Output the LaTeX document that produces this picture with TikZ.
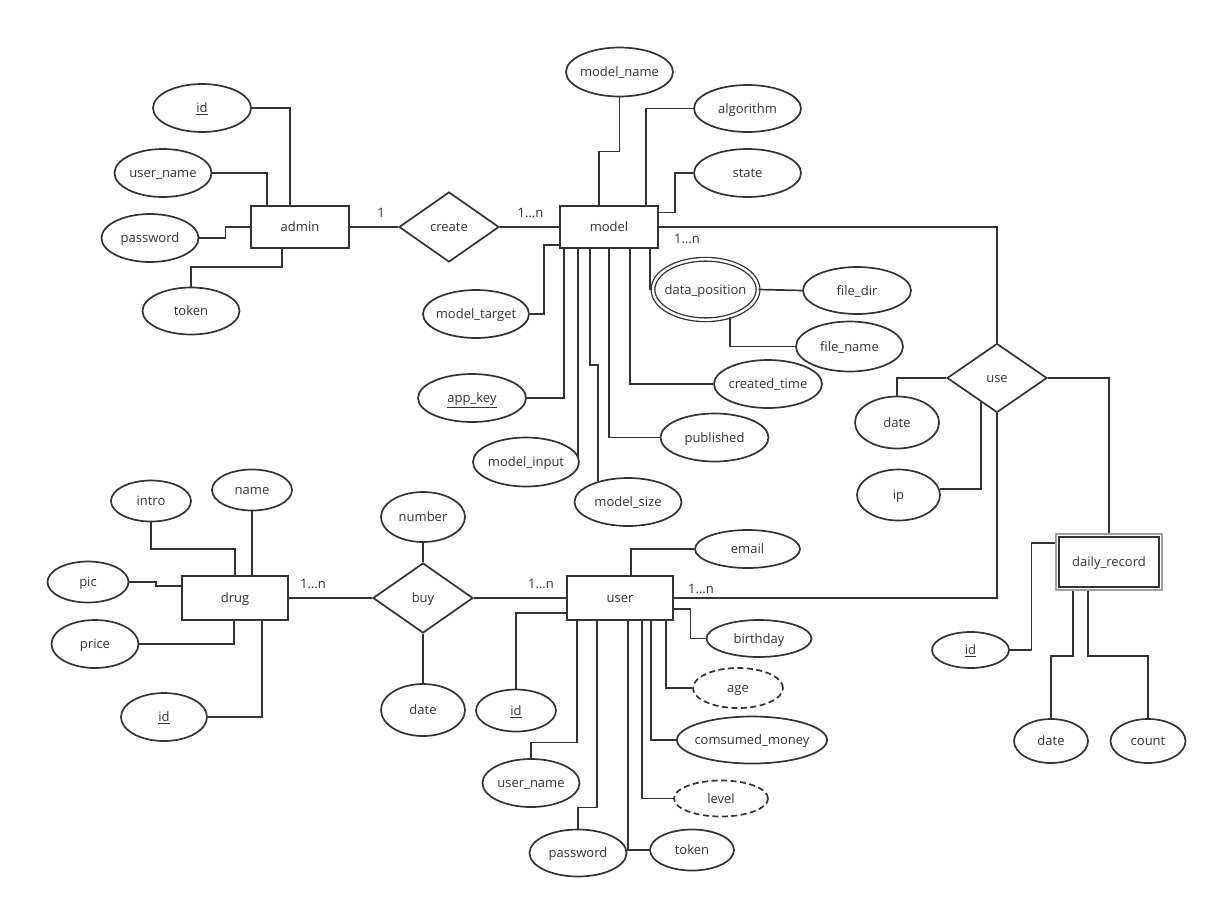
\documentclass[tikz,border=0pt]{standalone}
\usepackage{fontspec}
\setmainfont{Open Sans}
\usetikzlibrary{shapes.geometric}
\definecolor{lc}{HTML}{333333}
\definecolor{tc}{HTML}{333333}
\newcommand{\ztx}[1]{\makebox[0pt]{#1}}
\begin{document}
\begin{tikzpicture}[x=1pt,y=-1pt,
  every node/.style={font=\fontsize{13}{15}\selectfont, text=tc},
  conn/.style={draw=lc, line width=1.7pt},
  attr/.style 2 args={ellipse, draw=lc, line width=1.7pt, minimum width=#1pt, minimum height=#2pt, inner sep=0pt, text height=12pt, text depth=2.5pt},
  entity/.style 2 args={rectangle, draw=lc, line width=1.7pt, minimum width=#1pt, minimum height=#2pt, inner sep=0pt, text height=12pt, text depth=2.5pt},
  rel/.style={diamond, draw=lc, line width=1.7pt, minimum width=100pt, minimum height=70pt, inner sep=0pt, text height=12pt, text depth=2.5pt},
  dsh/.style={dash pattern=on 6pt off 3.5pt},
  card/.style={inner sep=0pt, text height=9.5pt, text depth=2.5pt}]
\fill[white] (0,0) rectangle (1217,908);
\path[use as bounding box] (0,0) rectangle (1217,908);

% entities
\node[entity={98}{42}] (admin) at (300,227) {admin};
\node[entity={98}{42}] (model) at (609,227) {model};
\node[entity={106}{44}] (drug) at (235,598) {drug};
\node[entity={106}{44}] (user) at (620,598) {user};
\node[rectangle, draw=gray!75, line width=1.3pt, minimum width=106pt, minimum height=56pt, inner sep=0pt] (dro) at (1109,562) {};
\node[entity={100}{50}] (dr) at (1109,562) {daily\_record};

% relations
\node[rel] (create) at (449,227) {\ztx{create}};
\node[rel, minimum height=69pt] (use) at (997,378) {\ztx{use}};
\node[rel] (buy) at (423,598) {\ztx{buy}};

% cardinalities
\node[card] (c1) at (381,214) {1};
\node[card] (c2) at (530.5,214) {1…n};
\node[card] (c3) at (687,240) {1…n};
\node[card] (c4) at (313,585) {1…n};
\node[card] (c5) at (541,585) {1…n};
\node[card] (c6) at (701,590) {1…n};

% admin attributes
\node[attr={98}{48}] (aid) at (202,108) {\ztx{\underline{id}}};
\node[attr={97}{48}] (aun) at (163,173) {\ztx{user\_name}};
\node[attr={97}{48}] (apw) at (150,238) {\ztx{password}};
\node[attr={97}{47}] (atk) at (191,311) {\ztx{token}};

% model attributes
\node[attr={107}{49}] (mname) at (619.5,72) {\ztx{model\_name}};
\node[attr={107}{47}] (malg) at (747.5,108.5) {\ztx{algorithm}};
\node[attr={107}{48}] (mstate) at (747.5,173) {\ztx{state}};
\node[attr={106}{48}] (mtarget) at (476,314) {\ztx{model\_target}};
\node[attr={108}{48}] (mkey) at (472,398) {\ztx{\underline{app\_key}}};
\node[attr={106}{49}] (minput) at (526,462) {\ztx{model\_input}};
\node[attr={107}{48}] (msize) at (628,502) {\ztx{model\_size}};
\node[attr={108}{48}] (mpub) at (714.5,437.5) {\ztx{published}};
\node[attr={108}{48}] (mct) at (768,384) {\ztx{created\_time}};
\node[attr={105}{60.5}, double, double distance=2.4pt, line width=1.3pt] (mdp) at (705.5,289.5) {\ztx{data\_position}};
\node[attr={108}{47}] (fdir) at (857,290.5) {\ztx{file\_dir}};
\node[attr={107}{50}] (fname) at (849.5,346.5) {\ztx{file\_name}};

% use attributes
\node[attr={84}{52}] (udate) at (897,422.5) {\ztx{date}};
\node[attr={83}{51}] (uip) at (898.5,495) {\ztx{ip}};

% daily_record attributes
\node[attr={77}{36}] (did) at (970.5,650) {\ztx{\underline{id}}};
\node[attr={74}{44}] (ddate) at (1051,741) {\ztx{date}};
\node[attr={75}{44}] (dcount) at (1148,741) {\ztx{count}};

% drug attributes
\node[attr={80}{41}] (gintro) at (151,501) {\ztx{intro}};
\node[attr={80}{41}] (gname) at (252,490) {\ztx{name}};
\node[attr={81}{41}] (gpic) at (88,582) {\ztx{pic}};
\node[attr={87}{48}] (gprice) at (95,644) {\ztx{price}};
\node[attr={86}{48}] (gid) at (164,717) {\ztx{\underline{id}}};

% buy attributes
\node[attr={84}{50}] (bnum) at (423,517) {\ztx{number}};
\node[attr={84}{52}] (bdate) at (423,710) {\ztx{date}};

% user attributes
\node[attr={105}{38}] (semail) at (747.5,549) {\ztx{email}};
\node[attr={105}{37}] (sbirth) at (759,638.5) {\ztx{birthday}};
\node[attr={90}{40}, dsh] (sage) at (738,688) {\ztx{age}};
\node[attr={150}{47}] (smoney) at (752,740) {\ztx{comsumed\_money}};
\node[attr={94}{36}, dsh] (slevel) at (721,798.5) {\ztx{level}};
\node[attr={84}{41}] (stoken) at (692,850) {\ztx{token}};
\node[attr={97}{47}] (spw) at (578,853) {\ztx{password}};
\node[attr={97}{48}] (sun) at (531,783) {\ztx{user\_name}};
\node[attr={80}{42}] (sid) at (516,710.5) {\ztx{\underline{id}}};

% admin connectors
\draw[conn] (aid.east) -| ([xshift=-10pt]admin.north);
\draw[conn] (aun.east) -| ([xshift=-33pt]admin.north);
\draw[conn] (apw.east) -- ++(26,0) |- (admin.west);
\draw[conn] (atk.north) -- ++(0,-20) -| ([xshift=-18pt]admin.south);
\draw[conn] (admin.east) -- (create.west);
\draw[conn] (create.east) -- (model.west);

% model connectors
\draw[conn] (mname.south) -- ++(0,54) -| ([xshift=-10pt]model.north);
\draw[conn] (malg.west) -| ([xshift=37pt]model.north);
\draw[conn] (mstate.west) -- ++(-18,0) |- ([yshift=14.5pt]model.east);
\draw[conn] (model.east) -| (use.north);
\draw[conn] ([yshift=-18pt]model.west) -- ++(-15,0) |- (mtarget.east);
\draw[conn] ([xshift=-45pt]model.south) |- (mkey.east);
\draw[conn] ([xshift=-31pt]model.south) |- (minput.5);
\draw[conn] ([xshift=-19pt]model.south) -- ++(0,116) -| (msize.145);
\draw[conn] (model.south) |- (mpub.west);
\draw[conn] ([xshift=21pt]model.south) |- (mct.west);
\draw[conn] ([xshift=41pt]model.south) |- (mdp.west);
\draw[conn] (mdp.east) -- (fdir.west);
\draw[conn] (mdp.-48) |- (fname.west);

% use connectors
\draw[conn] (udate.north) |- (use.west);
\draw[conn] (uip.8) -| (use.236);
\draw[conn] (use.south) |- (user.east);
\draw[conn] (use.east) -| (dro.north);

% daily_record connectors
\draw[conn] (did.east) -| ([xshift=-24pt,yshift=19.3pt]dro.west) -- ([yshift=19.3pt]dro.west);
\draw[conn] ([xshift=-36.3pt]dro.south) -- ++(0,65) -| (ddate.north);
\draw[conn] ([xshift=-21.3pt]dro.south) -- ++(0,65) -| (dcount.north);

% drug connectors
\draw[conn] (gintro.south) -- ++(0,26.5) -| (drug.north);
\draw[conn] (gname.south) -- ([xshift=17pt]drug.north);
\draw[conn] (gpic.east) -- ++(26.5,0) |- ([yshift=12.3pt]drug.west);
\draw[conn] (gprice.east) -| ([xshift=-1pt]drug.south);
\draw[conn] (gid.east) -| ([xshift=26.7pt]drug.south);
\draw[conn] (drug.east) -- (buy.west);
\draw[conn] (bnum.south) -- (buy.north);
\draw[conn] (buy.south) -- (bdate.north);
\draw[conn] (buy.east) -- (user.west);

% user connectors
\draw[conn] (semail.west) -| ([xshift=10.7pt]user.north);
\draw[conn] ([yshift=-11pt]user.east) -- ++(16.5,0) |- (sbirth.west);
\draw[conn] ([xshift=45.7pt]user.south) |- (sage.west);
\draw[conn] ([xshift=31pt]user.south) |- (smoney.west);
\draw[conn] ([xshift=21.7pt]user.south) |- (slevel.west);
\draw[conn] ([xshift=8.3pt]user.south) |- (stoken.west);
\draw[conn] ([xshift=-22.7pt]user.south) -- ++(0,186.7) -| (spw.north);
\draw[conn] ([xshift=-42.7pt]user.south) -- ++(0,121.7) -| (sun.north);
\draw[conn] ([yshift=-15.3pt]user.west) -| (sid.north);
\end{tikzpicture}
\end{document}
